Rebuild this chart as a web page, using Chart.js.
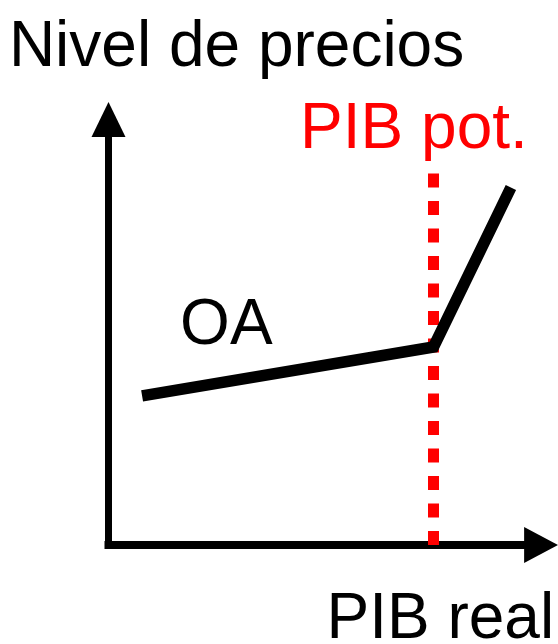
<!DOCTYPE html>
<html>
<head>
<meta charset="utf-8">
<script src="https://cdn.jsdelivr.net/npm/chart.js@4/dist/chart.umd.min.js"></script>
<style>
  html, body { margin: 0; padding: 0; background: #fff; }
  #wrap { width: 558px; height: 644px; position: relative; }
</style>
</head>
<body>
<div id="wrap"><canvas id="oaChart"></canvas></div>
<script>
// Oferta agregada (OA): tramo plano hasta el PIB potencial, luego empinado
const oaX = [0.84, 8.125, 10.06];
const oaY = [3.73, 4.95, 8.94];

// PIB potencial (línea vertical punteada)
const potX = [8.125, 8.125];
const potY = [0, 9.3];

// ejes con flecha
const axisX = [0, 10.39];
const axisY = [0, 10.2];

const labelTexts = ['Nivel de precios', 'PIB pot.', 'OA', 'PIB real'];

function pts(xs, ys) {
    return xs.map((x, i) => ({ x: x, y: ys[i] }));
}

// =========================================
// PLUGINS
// =========================================
const arrowPlugin = {
    id: 'arrowHeads',
    afterDatasetsDraw(chart) {
        const ctx = chart.ctx;
        chart.data.datasets.forEach((ds, i) => {
            if (!ds.arrow) return;
            const pts = chart.getDatasetMeta(i).data;
            const a = pts[pts.length - 2], b = pts[pts.length - 1];
            const ang = Math.atan2(b.y - a.y, b.x - a.x);
            ctx.save();
            ctx.translate(b.x, b.y);
            ctx.rotate(ang);
            ctx.beginPath();
            ctx.moveTo(ds.arrow.len, 0);
            ctx.lineTo(0, -ds.arrow.half);
            ctx.lineTo(0, ds.arrow.half);
            ctx.closePath();
            ctx.fillStyle = ds.borderColor;
            ctx.fill();
            ctx.restore();
        });
    }
};

// where each text sits, in data units
const labelLayout = [
    { x: -2.49, y: 11.975, color: '#000' },
    { x: 4.79, y: 9.925, color: '#ff0000' },
    { x: 1.79, y: 5.025, color: '#000' },
    { x: 5.45, y: -2.325, color: '#000' }
];

const labelPlugin = {
    id: 'textLabels',
    afterDraw(chart) {
        const ctx = chart.ctx;
        const sx = chart.scales.x, sy = chart.scales.y;
        ctx.save();
        ctx.font = '64px "Liberation Sans", Arial, sans-serif';
        ctx.textAlign = 'left';
        ctx.textBaseline = 'alphabetic';
        labelTexts.forEach((t, i) => {
            const l = labelLayout[i];
            ctx.fillStyle = l.color;
            ctx.fillText(t, sx.getPixelForValue(l.x), sy.getPixelForValue(l.y));
        });
        ctx.restore();
    }
};

// =========================================
// CHART
// =========================================
new Chart(document.getElementById('oaChart'), {
    type: 'scatter',
    data: {
        datasets: [
            {
                data: pts(oaX, oaY),
                showLine: true,
                borderColor: '#000',
                borderWidth: 11.5,
                borderJoinStyle: 'miter',
                pointRadius: 0
            },
            {
                data: pts(potX, potY),
                showLine: true,
                borderColor: '#ff0000',
                borderWidth: 11,
                borderDash: [14, 13.5],
                pointRadius: 0
            },
            {
                data: pts(axisX, [0, 0]),
                showLine: true,
                borderColor: '#000',
                borderWidth: 8,
                borderCapStyle: 'square',
                pointRadius: 0,
                arrow: { len: 34, half: 18 }
            },
            {
                data: pts([0, 0], axisY),
                showLine: true,
                borderColor: '#000',
                borderWidth: 7,
                borderCapStyle: 'square',
                pointRadius: 0,
                arrow: { len: 35, half: 17 }
            }
        ]
    },
    options: {
        responsive: true,
        maintainAspectRatio: false,
        animation: false,
        events: [],
        layout: { padding: 0 },
        plugins: {
            legend: { display: false },
            tooltip: { enabled: false }
        },
        scales: {
            x: { type: 'linear', min: -2.7125, max: 11.2375, display: false },
            y: { type: 'linear', min: -2.475, max: 13.625, display: false }
        }
    },
    plugins: [arrowPlugin, labelPlugin]
});
</script>
</body>
</html>
